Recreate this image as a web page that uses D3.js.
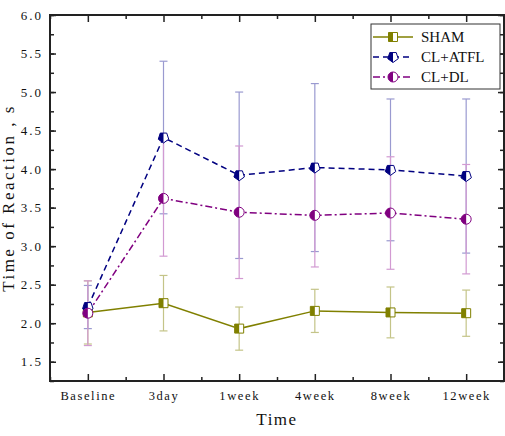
<!DOCTYPE html>
<html><head><meta charset="utf-8">
<script src="https://cdn.jsdelivr.net/npm/d3@7"></script>
<style>body{margin:0;background:#fff}svg{display:block}</style>
</head><body><svg id="c" width="505" height="436"></svg>
<script>
const categories = ["Baseline","3day","1week","4week","8week","12week"];
const seriesNames = ["SHAM","CL+ATFL","CL+DL"];
const shamMean = [2.14, 2.26, 1.93, 2.16, 2.14, 2.13];
const shamErr  = [0.41, 0.36, 0.28, 0.28, 0.33, 0.30];
const atflMean = [2.21, 4.41, 3.92, 4.02, 3.99, 3.91];
const atflErr  = [0.28, 0.99, 1.08, 1.09, 0.92, 1.00];
const dlMean   = [2.13, 3.62, 3.44, 3.40, 3.43, 3.35];
const dlErr    = [0.42, 0.75, 0.86, 0.67, 0.73, 0.71];
const yTicks = [1.5,2.0,2.5,3.0,3.5,4.0,4.5,5.0,5.5,6.0];

const series = [
  {name:seriesNames[0], mean:shamMean, err:shamErr, color:"#808000", errColor:"#c4c488", dash:null, shape:"square"},
  {name:seriesNames[1], mean:atflMean, err:atflErr, color:"#000080", errColor:"#9a9ad0", dash:"6,4", shape:"pentagon"},
  {name:seriesNames[2], mean:dlMean, err:dlErr, color:"#800080", errColor:"#d29ad2", dash:"7,3,2,3", shape:"circle"}
];

const svg = d3.select("#c");
const L=50, R=504, T=15, B=381;
const x = d3.scaleLinear().domain([-0.5, categories.length-0.5]).range([L,R]);
const y = d3.scaleLinear().domain([1.25, 6.0]).range([B,T]);
const serif = "'Liberation Serif', 'DejaVu Serif', serif";

const idx = d3.range(categories.length);
const minorX = d3.range(categories.length+1).map(i=>i-0.5);
const minorY = d3.range(1.25, 6.001, 0.25);
function styleAxis(g){ g.selectAll(".domain").remove(); g.selectAll("line").attr("stroke","#222").attr("stroke-width",1.5); }

svg.append("g").attr("transform",`translate(0,${B})`)
  .call(d3.axisBottom(x).tickValues(idx).tickFormat(i=>categories[i]).tickSizeInner(-7).tickSizeOuter(0).tickPadding(10))
  .call(styleAxis).call(g=>g.selectAll("text").attr("font-family",serif).attr("font-size",12.5).attr("letter-spacing",1.6).attr("fill","#111"));
svg.append("g").attr("transform",`translate(0,${B})`)
  .call(d3.axisBottom(x).tickValues(minorX).tickFormat("").tickSizeInner(-4).tickSizeOuter(0)).call(styleAxis);
svg.append("g").attr("transform",`translate(0,${T})`)
  .call(d3.axisTop(x).tickValues(idx).tickFormat("").tickSizeInner(-7).tickSizeOuter(0)).call(styleAxis);
svg.append("g").attr("transform",`translate(0,${T})`)
  .call(d3.axisTop(x).tickValues(minorX).tickFormat("").tickSizeInner(-4).tickSizeOuter(0)).call(styleAxis);

svg.append("g").attr("transform",`translate(${L},0)`)
  .call(d3.axisLeft(y).tickValues(yTicks).tickFormat(d3.format(".1f")).tickSizeInner(-6).tickSizeOuter(0).tickPadding(7))
  .call(styleAxis).call(g=>g.selectAll("text").attr("font-family",serif).attr("font-size",13).attr("letter-spacing",2).attr("fill","#111"));
svg.append("g").attr("transform",`translate(${L},0)`)
  .call(d3.axisLeft(y).tickValues(minorY).tickFormat("").tickSizeInner(-4).tickSizeOuter(0)).call(styleAxis);
svg.append("g").attr("transform",`translate(${R},0)`)
  .call(d3.axisRight(y).tickValues(yTicks).tickFormat("").tickSizeInner(-6).tickSizeOuter(0)).call(styleAxis);
svg.append("g").attr("transform",`translate(${R},0)`)
  .call(d3.axisRight(y).tickValues(minorY).tickFormat("").tickSizeInner(-4).tickSizeOuter(0)).call(styleAxis);

svg.append("rect").attr("x",L).attr("y",T).attr("width",R-L).attr("height",B-T)
  .attr("fill","none").attr("stroke","#222").attr("stroke-width",2);

svg.append("text").attr("x",(L+R)/2).attr("y",425).attr("text-anchor","middle")
  .attr("font-family",serif).attr("font-size",17).attr("letter-spacing",1.5).attr("fill","#111").text("Time");
svg.append("text").attr("transform",`translate(14,${(T+B)/2}) rotate(-90)`).attr("text-anchor","middle")
  .attr("font-family",serif).attr("font-size",17).attr("letter-spacing",2.5).attr("fill","#111").text("Time of Reaction , s");

svg.append("defs").append("clipPath").attr("id","lefthalf").append("rect")
  .attr("x",-10).attr("y",-10).attr("width",10).attr("height",20);

function shapePath(shape, r){
  if(shape==="square") return d3.symbol(d3.symbolSquare, (2*r-1)*(2*r-1))();
  if(shape==="circle") return d3.symbol(d3.symbolCircle, Math.PI*r*r)();
  const pts = d3.range(5).map(k=>{const a=-Math.PI/2 + k*2*Math.PI/5 + Math.PI/5; return [r*1.1*Math.cos(a), r*1.1*Math.sin(a)];});
  return d3.line()(pts)+"Z";
}
function drawMarker(g, s, cx, cy){
  const m = g.append("g").attr("transform",`translate(${cx},${cy})`);
  const p = shapePath(s.shape, 5);
  m.append("path").attr("d",p).attr("fill","#fff").attr("stroke","none");
  m.append("path").attr("d",p).attr("fill",s.color).attr("clip-path","url(#lefthalf)");
  m.append("path").attr("d",p).attr("fill","none").attr("stroke",s.color).attr("stroke-width",1);
}

const eg = svg.append("g");
series.forEach(s=>{
  idx.forEach(i=>{
    const cx=x(i), y1=y(s.mean[i]+s.err[i]), y2=y(s.mean[i]-s.err[i]);
    eg.append("line").attr("x1",cx).attr("x2",cx).attr("y1",y1).attr("y2",y2).attr("stroke",s.errColor).attr("stroke-width",1.2);
    [y1,y2].forEach(yy=>eg.append("line").attr("x1",cx-4).attr("x2",cx+4).attr("y1",yy).attr("y2",yy).attr("stroke",s.errColor).attr("stroke-width",1.2));
  });
});
const line = d3.line().x((d,i)=>x(i)).y(d=>y(d));
series.forEach(s=>{
  svg.append("path").datum(s.mean).attr("d",line).attr("fill","none").attr("stroke",s.color)
    .attr("stroke-width",1.5).attr("stroke-dasharray",s.dash);
});
series.forEach(s=>{ idx.forEach(i=>drawMarker(svg, s, x(i), y(s.mean[i]))); });

const lg = svg.append("g");
lg.append("rect").attr("x",371).attr("y",24).attr("width",129).attr("height",65)
  .attr("fill","#fff").attr("stroke","#333").attr("stroke-width",1);
series.forEach((s,k)=>{
  const yy = 37 + k*20;
  lg.append("line").attr("x1",373).attr("x2",413).attr("y1",yy).attr("y2",yy)
    .attr("stroke",s.color).attr("stroke-width",1.5).attr("stroke-dasharray",s.dash);
  drawMarker(lg, s, 393, yy);
  lg.append("text").attr("x",421).attr("y",yy+5).attr("font-family",serif).attr("font-size",15)
    .attr("fill","#111").text(s.name);
});
</script></body></html>
